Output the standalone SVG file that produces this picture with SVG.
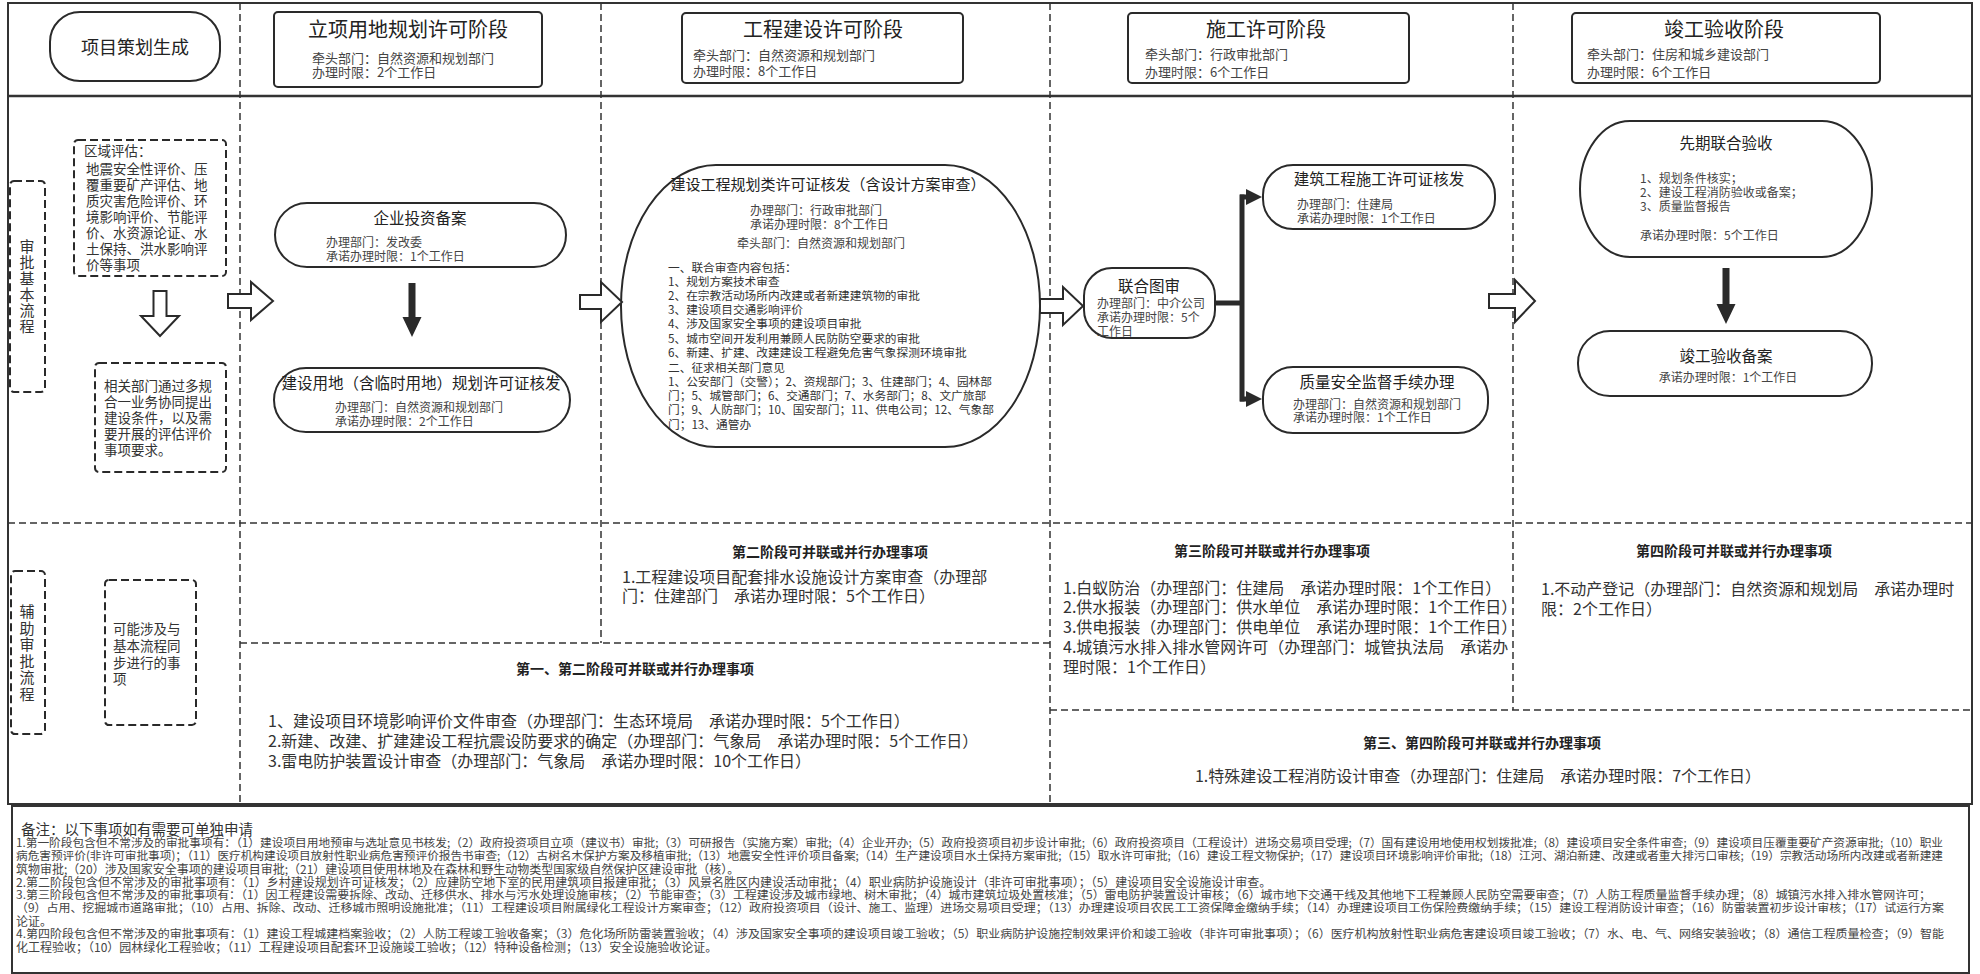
<svg xmlns="http://www.w3.org/2000/svg" width="1980" height="974" viewBox="0 0 1980 974">
<style>
text{font-family:'Noto Sans CJK SC','Liberation Sans',sans-serif;fill:#333;dominant-baseline:central}
.c{text-anchor:middle}
.h1{font-size:20px;fill:#222}
.h2{font-size:15.5px;fill:#222}
.s{font-size:12px;fill:#444}
.m{font-size:13px;fill:#444}
.l{font-size:13.5px}
.p{font-size:16px}
.b{font-size:14px;font-weight:bold;fill:#222}
.ft{font-size:12px;fill:#444}
.fl{font-size:11.5px;fill:#444}
.frame{fill:none;stroke:#333;stroke-width:2}
.sep{fill:none;stroke:#333;stroke-width:1.5;stroke-dasharray:7 4}
.node{fill:#fff;stroke:#2a2a2a;stroke-width:2}
.dbox{fill:none;stroke:#2a2a2a;stroke-width:2;stroke-dasharray:8 4}
.hollow{fill:#fff;stroke:#2a2a2a;stroke-width:2;stroke-linejoin:miter}
.solid{fill:#2a2a2a;stroke:none}
.thick{fill:none;stroke:#2a2a2a;stroke-width:5}
</style>
<defs>
<marker id="ah" markerUnits="userSpaceOnUse" markerWidth="16" markerHeight="16" viewBox="0 0 16 16" refX="1" refY="8" orient="auto"><path d="M0,0 L16,8 L0,16 Z" fill="#2a2a2a"/></marker>
</defs>
<rect width="1980" height="974" fill="#fff"/>
<g id="frame">
<rect class="frame" x="8" y="3" width="1964" height="801"/>
<line x1="8" y1="96" x2="1972" y2="96" stroke="#333" stroke-width="2.5"/>
<rect class="frame" x="12" y="806" width="1957" height="167"/>
</g>
<g id="separators">
<line class="sep" x1="240" y1="3" x2="240" y2="804"/>
<line class="sep" x1="601" y1="3" x2="601" y2="643"/>
<line class="sep" x1="1050" y1="3" x2="1050" y2="804"/>
<line class="sep" x1="1513" y1="3" x2="1513" y2="710"/>
<line class="sep" x1="8" y1="523" x2="1972" y2="523"/>
<line class="sep" x1="240" y1="643" x2="1050" y2="643"/>
<line class="sep" x1="1050" y1="710" x2="1972" y2="710"/>
</g>
<g id="n-start">
<rect class="node" x="50" y="12" width="170" height="69" rx="30"/>
<text class="c" x="135" y="46" style="font-size:18px;fill:#222">项目策划生成</text>
</g>
<g id="h-stage1">
<rect class="node" x="274" y="12" width="268" height="75" rx="4"/>
<text class="c h1" x="408" y="28">立项用地规划许可阶段</text>
<text class="m" x="312" y="57">牵头部门：自然资源和规划部门</text>
<text class="m" x="312" y="71">办理时限：2个工作日</text>
</g>
<g id="h-stage2">
<rect class="node" x="682" y="13" width="281" height="70" rx="4"/>
<text class="c h1" x="823" y="28">工程建设许可阶段</text>
<text class="m" x="693" y="54">牵头部门：自然资源和规划部门</text>
<text class="m" x="693" y="70">办理时限：8个工作日</text>
</g>
<g id="h-stage3">
<rect class="node" x="1128" y="13" width="281" height="70" rx="4"/>
<text class="c h1" x="1266" y="28">施工许可阶段</text>
<text class="m" x="1145" y="53">牵头部门：行政审批部门</text>
<text class="m" x="1145" y="71">办理时限：6个工作日</text>
</g>
<g id="h-stage4">
<rect class="node" x="1572" y="13" width="308" height="70" rx="4"/>
<text class="c h1" x="1724" y="28">竣工验收阶段</text>
<text class="m" x="1587" y="53">牵头部门：住房和城乡建设部门</text>
<text class="m" x="1587" y="71">办理时限：6个工作日</text>
</g>
<g id="lane-main">
<rect class="dbox" x="10" y="181" width="35" height="211" rx="4"/>
<text class="c" style="font-size:15px" x="27" y="245">审<tspan x="27" dy="16">批</tspan><tspan x="27" dy="16">基</tspan><tspan x="27" dy="16">本</tspan><tspan x="27" dy="16">流</tspan><tspan x="27" dy="16">程</tspan></text>
</g>
<g id="n-region">
<rect class="dbox" x="74" y="140" width="152" height="136" rx="4"/>
<text class="l" x="84" y="150">区域评估：</text>
<text class="l" x="86" y="168">地震安全性评价、压</text>
<text class="l" x="86" y="184">覆重要矿产评估、地</text>
<text class="l" x="86" y="200">质灾害危险评价、环</text>
<text class="l" x="86" y="216">境影响评价、节能评</text>
<text class="l" x="86" y="232">价、水资源论证、水</text>
<text class="l" x="86" y="248">土保持、洪水影响评</text>
<text class="l" x="86" y="264">价等事项</text>
</g>
<g id="n-dept">
<rect class="dbox" x="95" y="363" width="131" height="109" rx="4"/>
<text class="l" x="104" y="385">相关部门通过多规</text>
<text class="l" x="104" y="401">合一业务协同提出</text>
<text class="l" x="104" y="417">建设条件，以及需</text>
<text class="l" x="104" y="433">要开展的评估评价</text>
<text class="l" x="104" y="449">事项要求。</text>
</g>
<g id="n-invest">
<rect class="node" x="275" y="203" width="291" height="64" rx="32"/>
<text class="c h2" x="420" y="217">企业投资备案</text>
<text class="s" x="326" y="241">办理部门：发改委</text>
<text class="s" x="326" y="255">承诺办理时限：1个工作日</text>
</g>
<g id="n-land">
<rect class="node" x="274" y="368" width="296" height="64" rx="32"/>
<text class="c h2" x="421" y="382">建设用地（含临时用地）规划许可证核发</text>
<text class="s" x="335" y="406">办理部门：自然资源和规划部门</text>
<text class="s" x="335" y="420">承诺办理时限：2个工作日</text>
</g>
<g id="n-plan">
<rect class="node" x="621" y="165" width="419" height="282" rx="95" ry="141"/>
<text class="c" style="font-size:15px;fill:#222" x="828" y="183">建设工程规划类许可证核发（含设计方案审查）</text>
<text class="s" x="750" y="209">办理部门：行政审批部门</text>
<text class="s" x="750" y="223">承诺办理时限：8个工作日</text>
<text class="s" x="737" y="242">牵头部门：自然资源和规划部门</text>
<g style="font-size:11.7px">
<text x="668" y="266">一、联合审查内容包括：</text>
<text x="668" y="280">1、规划方案技术审查</text>
<text x="668" y="294">2、在宗教活动场所内改建或者新建建筑物的审批</text>
<text x="668" y="308">3、建设项目交通影响评价</text>
<text x="668" y="322">4、涉及国家安全事项的建设项目审批</text>
<text x="668" y="337">5、城市空间开发利用兼顾人民防防空要求的审批</text>
<text x="668" y="351">6、新建、扩建、改建建设工程避免危害气象探测环境审批</text>
<text x="668" y="366">二、征求相关部门意见</text>
<text x="668" y="380">1、公安部门（交警）；2、资规部门；3、住建部门；4、园林部</text>
<text x="668" y="394">门；5、城管部门；6、交通部门；7、水务部门；8、文广旅部</text>
<text x="668" y="408">门；9、人防部门；10、国安部门；11、供电公司；12、气象部</text>
<text x="668" y="423">门；13、通管办</text>
</g>
</g>
<g id="n-joint">
<rect class="node" x="1084" y="268" width="131" height="70" rx="28"/>
<text class="c h2" x="1149" y="285">联合图审</text>
<text class="s" x="1097" y="302">办理部门：中介公司</text>
<text class="s" x="1097" y="316">承诺办理时限：5个</text>
<text class="s" x="1097" y="330">工作日</text>
</g>
<g id="n-permit">
<rect class="node" x="1263" y="165" width="232" height="64" rx="30"/>
<text class="c h2" x="1379" y="178">建筑工程施工许可证核发</text>
<text class="s" x="1297" y="203">办理部门：住建局</text>
<text class="s" x="1297" y="217">承诺办理时限：1个工作日</text>
</g>
<g id="n-quality">
<rect class="node" x="1263" y="367" width="225" height="66" rx="30"/>
<text class="c h2" x="1377" y="381">质量安全监督手续办理</text>
<text class="s" x="1293" y="403">办理部门：自然资源和规划部门</text>
<text class="s" x="1293" y="416">承诺办理时限：1个工作日</text>
</g>
<g id="n-preaccept">
<rect class="node" x="1580" y="121" width="292" height="136" rx="50" ry="68"/>
<text class="c h2" x="1726" y="142">先期联合验收</text>
<text class="s" x="1640" y="177">1、规划条件核实；</text>
<text class="s" x="1640" y="191">2、建设工程消防验收或备案；</text>
<text class="s" x="1640" y="205">3、质量监督报告</text>
<text class="s" x="1640" y="234">承诺办理时限：5个工作日</text>
</g>
<g id="n-final">
<rect class="node" x="1578" y="331" width="294" height="65" rx="32"/>
<text class="c h2" x="1726" y="355">竣工验收备案</text>
<text class="c s" x="1728" y="376">承诺办理时限：1个工作日</text>
</g>
<g id="connectors">
<path class="hollow" d="M153.5,291 H166.5 V316 H179 L160,336 L141,316 H153.5 Z"/>
<path class="hollow" d="M228,294 H251 V282 L273,301 L251,320 V308 H228 Z"/>
<path class="hollow" d="M580,295 H601 V282 L622,302 L601,322 V309 H580 Z"/>
<path class="hollow" d="M1040,299 H1063 V287 L1083,306 L1063,325 V313 H1040 Z"/>
<path class="hollow" d="M1489,294 H1515 V280 L1535,301 L1515,322 V308 H1489 Z"/>
<path class="solid" d="M408.5,283 H415.5 V317 H421.5 L412,337 L402.5,317 H408.5 Z"/>
<path class="solid" d="M1722.5,268 H1729.5 V304 H1735.5 L1726,324 L1716.5,304 H1722.5 Z"/>
<path class="thick" d="M1215,303 H1242 M1242,194.5 V401.5"/>
<path class="thick" d="M1240,197 H1247" marker-end="url(#ah)"/>
<path class="thick" d="M1240,399 H1247" marker-end="url(#ah)"/>
</g>
<g id="lane-aux">
<rect class="dbox" x="11" y="571" width="34" height="163" rx="4"/>
<text class="c" style="font-size:15px" x="27" y="610">辅<tspan x="27" dy="16.6">助</tspan><tspan x="27" dy="16.6">审</tspan><tspan x="27" dy="16.6">批</tspan><tspan x="27" dy="16.6">流</tspan><tspan x="27" dy="16.6">程</tspan></text>
</g>
<g id="n-sync">
<rect class="dbox" x="105" y="580" width="91" height="145" rx="4"/>
<text class="l" x="113" y="628">可能涉及与</text>
<text class="l" x="113" y="645">基本流程同</text>
<text class="l" x="113" y="662">步进行的事</text>
<text class="l" x="113" y="678">项</text>
</g>
<g id="n-par2">
<text class="c b" x="830" y="551">第二阶段可并联或并行办理事项</text>
<text class="p" x="622" y="576">1.工程建设项目配套排水设施设计方案审查（办理部</text>
<text class="p" x="622" y="595">门：住建部门　承诺办理时限：5个工作日）</text>
</g>
<g id="n-par12">
<text class="c b" x="635" y="668">第一、第二阶段可并联或并行办理事项</text>
<text class="p" x="268" y="720">1、建设项目环境影响评价文件审查（办理部门：生态环境局　承诺办理时限：5个工作日）</text>
<text class="p" x="268" y="740">2.新建、改建、扩建建设工程抗震设防要求的确定（办理部门：气象局　承诺办理时限：5个工作日）</text>
<text class="p" x="268" y="760">3.雷电防护装置设计审查（办理部门：气象局　承诺办理时限：10个工作日）</text>
</g>
<g id="n-par3">
<text class="c b" x="1272" y="550">第三阶段可并联或并行办理事项</text>
<text class="p" x="1063" y="587">1.白蚁防治（办理部门：住建局　承诺办理时限：1个工作日）</text>
<text class="p" x="1063" y="606">2.供水报装（办理部门：供水单位　承诺办理时限：1个工作日）</text>
<text class="p" x="1063" y="626">3.供电报装（办理部门：供电单位　承诺办理时限：1个工作日）</text>
<text class="p" x="1063" y="646">4.城镇污水排入排水管网许可（办理部门：城管执法局　承诺办</text>
<text class="p" x="1063" y="666">理时限：1个工作日）</text>
</g>
<g id="n-par4">
<text class="c b" x="1734" y="550">第四阶段可并联或并行办理事项</text>
<text class="p" x="1541" y="588">1.不动产登记（办理部门：自然资源和规划局　承诺办理时</text>
<text class="p" x="1541" y="608">限：2个工作日）</text>
</g>
<g id="n-par34">
<text class="c b" x="1482" y="742">第三、第四阶段可并联或并行办理事项</text>
<text class="c p" x="1478" y="775">1.特殊建设工程消防设计审查（办理部门：住建局　承诺办理时限：7个工作日）</text>
</g>
<g id="notes">
<text x="21" y="828" style="font-size:14.5px;fill:#333">备注：以下事项如有需要可单独申请</text>
<text class="fl" x="16" y="842" textLength="1927" lengthAdjust="spacingAndGlyphs">1.第一阶段包含但不常涉及的审批事项有：（1）建设项目用地预审与选址意见书核发;（2）政府投资项目立项（建议书）审批;（3）可研报告（实施方案）审批;（4）企业开办;（5）政府投资项目初步设计审批;（6）政府投资项目（工程设计）进场交易项目受理;（7）国有建设用地使用权划拨批准;（8）建设项目安全条件审查;（9）建设项目压覆重要矿产资源审批;（10）职业</text>
<text class="fl" x="16" y="855" textLength="1927" lengthAdjust="spacingAndGlyphs">病危害预评价(非许可审批事项)；（11）医疗机构建设项目放射性职业病危害预评价报告书审查;（12）古树名木保护方案及移植审批;（13）地震安全性评价项目备案;（14）生产建设项目水土保持方案审批;（15）取水许可审批;（16）建设工程文物保护;（17）建设项目环境影响评价审批;（18）江河、湖泊新建、改建或者重大排污口审核;（19）宗教活动场所内改建或者新建建</text>
<text class="ft" x="16" y="868">筑物审批;（20）涉及国家安全事项的建设项目审批;（21）建设项目使用林地及在森林和野生动物类型国家级自然保护区建设审批（核）。</text>
<text class="ft" x="16" y="881">2.第二阶段包含但不常涉及的审批事项有：（1）乡村建设规划许可证核发；（2）应建防空地下室的民用建筑项目报建审批；（3）风景名胜区内建设活动审批；（4）职业病防护设施设计（非许可审批事项）；（5）建设项目安全设施设计审查。</text>
<text class="fl" x="16" y="894" textLength="1915" lengthAdjust="spacingAndGlyphs">3.第三阶段包含但不常涉及的审批事项有：（1）因工程建设需要拆除、改动、迁移供水、排水与污水处理设施审核；（2）节能审查；（3）工程建设涉及城市绿地、树木审批；（4）城市建筑垃圾处置核准；（5）雷电防护装置设计审核；（6）城市地下交通干线及其他地下工程兼顾人民防空需要审查；（7）人防工程质量监督手续办理；（8）城镇污水排入排水管网许可；</text>
<text class="fl" x="16" y="907" textLength="1928" lengthAdjust="spacingAndGlyphs">（9）占用、挖掘城市道路审批；（10）占用、拆除、改动、迁移城市照明设施批准；（11）工程建设项目附属绿化工程设计方案审查；（12）政府投资项目（设计、施工、监理）进场交易项目受理；（13）办理建设项目农民工工资保障金缴纳手续；（14）办理建设项目工伤保险费缴纳手续；（15）建设工程消防设计审查；（16）防雷装置初步设计审核；（17）试运行方案</text>
<text class="ft" x="16" y="920">论证。</text>
<text class="fl" x="16" y="933" textLength="1928" lengthAdjust="spacingAndGlyphs">4.第四阶段包含但不常涉及的审批事项有：（1）建设工程城建档案验收；（2）人防工程竣工验收备案；（3）危化场所防雷装置验收；（4）涉及国家安全事项的建设项目竣工验收；（5）职业病防护设施控制效果评价和竣工验收（非许可审批事项）；（6）医疗机构放射性职业病危害建设项目竣工验收；（7）水、电、气、网络安装验收；（8）通信工程质量检查；（9）智能</text>
<text class="ft" x="16" y="946">化工程验收；（10）园林绿化工程验收；（11）工程建设项目配套环卫设施竣工验收；（12）特种设备检测；（13）安全设施验收论证。</text>
</g>
</svg>
